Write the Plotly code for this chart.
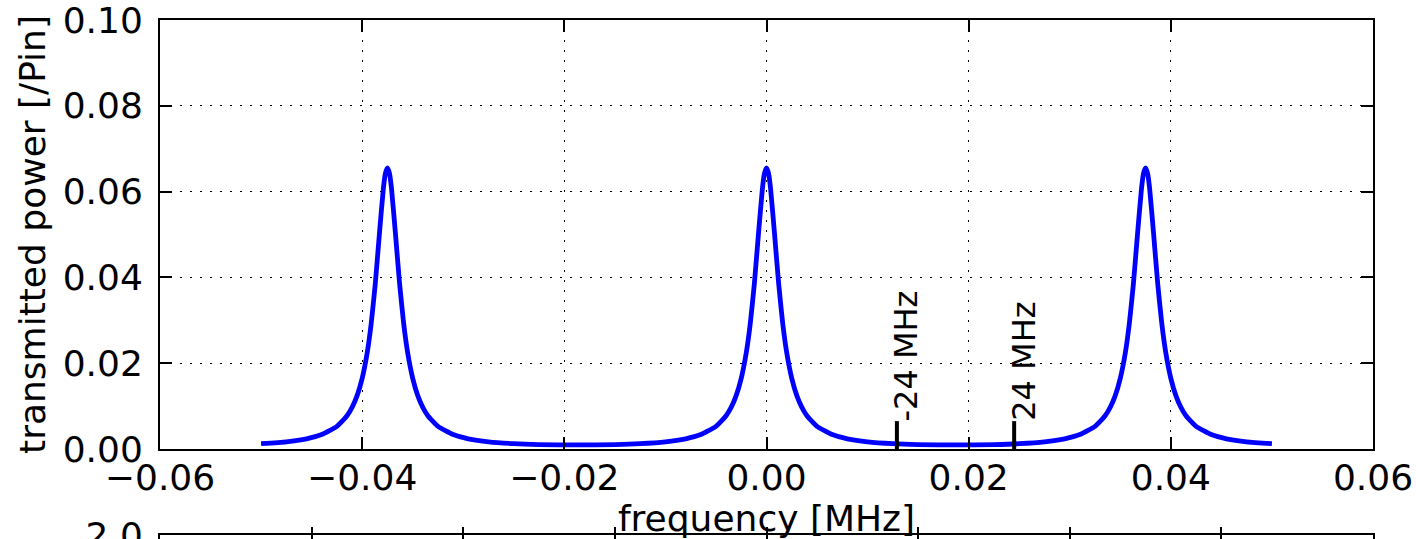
import plotly.graph_objects as go

# ---- data ----
freq = [
    -0.05, -0.0475, -0.0455, -0.044, -0.0425, -0.0415, -0.041, -0.0405, -0.04, -0.0395,
    -0.0391, -0.0387, -0.0383, -0.0379, -0.0377, -0.0375, -0.0373, -0.0371, -0.0367, -0.0363,
    -0.0359, -0.0355, -0.035, -0.0345, -0.034, -0.0335, -0.0325, -0.031, -0.0295, -0.0275,
    -0.025, -0.0225, -0.01875, -0.015, -0.0125, -0.01, -0.008, -0.0065, -0.005, -0.004,
    -0.0035, -0.003, -0.0025, -0.002, -0.0016, -0.0012, -0.0008, -0.0004, -0.0002, 0.0,
    0.0002, 0.0004, 0.0008, 0.0012, 0.0016, 0.002, 0.0025, 0.003, 0.0035, 0.004,
    0.005, 0.0065, 0.008, 0.01, 0.0125, 0.015, 0.01875, 0.0225, 0.025, 0.0275,
    0.0295, 0.031, 0.0325, 0.0335, 0.034, 0.0345, 0.035, 0.0355, 0.0359, 0.0363,
    0.0367, 0.0371, 0.0373, 0.0375, 0.0377, 0.0379, 0.0383, 0.0387, 0.0391, 0.0395,
    0.04, 0.0405, 0.041, 0.0415, 0.0425, 0.044, 0.0455, 0.0475, 0.05,
]
power = [
    0.00124, 0.00167, 0.00237, 0.00336, 0.00528, 0.00774, 0.00969, 0.01243, 0.01645, 0.02244,
    0.02935, 0.0386, 0.0500, 0.0608, 0.06425, 0.0655, 0.06425, 0.0608, 0.0500, 0.0386,
    0.02935, 0.02244, 0.01645, 0.01243, 0.00969, 0.00774, 0.00528, 0.00336, 0.00237, 0.00167,
    0.00124, 0.00103, 0.00094, 0.00103, 0.00124, 0.00167, 0.00237, 0.00336, 0.00528, 0.00774,
    0.00969, 0.01243, 0.01645, 0.02244, 0.02935, 0.0386, 0.0500, 0.0608, 0.06425, 0.0655,
    0.06425, 0.0608, 0.0500, 0.0386, 0.02935, 0.02244, 0.01645, 0.01243, 0.00969, 0.00774,
    0.00528, 0.00336, 0.00237, 0.00167, 0.00124, 0.00103, 0.00094, 0.00103, 0.00124, 0.00167,
    0.00237, 0.00336, 0.00528, 0.00774, 0.00969, 0.01243, 0.01645, 0.02244, 0.02935, 0.0386,
    0.0500, 0.0608, 0.06425, 0.0655, 0.06425, 0.0608, 0.0500, 0.0386, 0.02935, 0.02244,
    0.01645, 0.01243, 0.00969, 0.00774, 0.00528, 0.00336, 0.00237, 0.00167, 0.00124,
]

marker_freq = [0.0129, 0.0245]
marker_height = [0.0065, 0.0065]
marker_labels = ["-24 MHz", "24 MHz"]

x_ticks = [-0.06, -0.04, -0.02, 0.0, 0.02, 0.04, 0.06]
x_tick_text = ["\u22120.06", "\u22120.04", "\u22120.02", "0.00", "0.02", "0.04", "0.06"]
y_ticks = [0.0, 0.02, 0.04, 0.06, 0.08, 0.10]
y_tick_text = ["0.00", "0.02", "0.04", "0.06", "0.08", "0.10"]

# second (cut-off) panel below
y2_ticks = [2.0]
y2_tick_text = ["2.0"]
x2_ticks = [0, 1, 2, 3, 4, 5, 6, 7, 8]

FONT = "DejaVu Sans"
W, H = 1416, 539

fig = go.Figure()

fig.add_trace(go.Scatter(
    x=freq, y=power, mode="lines",
    line=dict(color="#0000ff", width=4.8, shape="spline", smoothing=0.5),
    xaxis="x", yaxis="y", showlegend=False, hoverinfo="skip",
))

for xv, hv in zip(marker_freq, marker_height):
    fig.add_trace(go.Scatter(
        x=[xv, xv], y=[0, hv], mode="lines",
        line=dict(color="black", width=4),
        xaxis="x", yaxis="y", showlegend=False, hoverinfo="skip",
    ))

for xv, hv, lab in zip(marker_freq, marker_height, marker_labels):
    fig.add_annotation(
        x=xv, y=hv, xref="x", yref="y", text=lab, showarrow=False,
        textangle=-90, xanchor="left", yanchor="bottom", xshift=-12, yshift=-2,
        font=dict(family=FONT, size=32, color="black"),
    )

# invisible trace for second panel
fig.add_trace(go.Scatter(x=[0, 8], y=[1.9, 2.0], mode="lines",
                         line=dict(color="rgba(0,0,0,0)"), xaxis="x2", yaxis="y2",
                         showlegend=False, hoverinfo="skip"))

axis_common = dict(
    showline=True, linecolor="black", linewidth=2, mirror="allticks",
    ticks="inside", ticklen=12, tickwidth=1.5, tickcolor="black",
    zeroline=False, automargin=False, ticklabeloverflow="allow",
)

top_dom = [(H - 449) / H, 1 - 20 / H]

fig.update_layout(
    template="none",
    width=W, height=H,
    margin=dict(l=160, r=43, t=0, b=0, autoexpand=False),
    paper_bgcolor="white", plot_bgcolor="white",
    font=dict(family=FONT, size=36, color="black"),
    xaxis=dict(
        **axis_common, anchor="y", domain=[0, 1],
        range=[-0.06, 0.06], tickvals=x_ticks, ticktext=x_tick_text,
        showgrid=True, gridcolor="black", gridwidth=1, griddash="2px,8px",
        tickfont=dict(family=FONT, size=36), ticklabelstandoff=-4,
        title=dict(text="frequency [MHz]", font=dict(family=FONT, size=36), standoff=8),
    ),
    yaxis=dict(
        **axis_common, anchor="x", domain=top_dom,
        range=[0, 0.1], tickvals=y_ticks, ticktext=y_tick_text,
        showgrid=True, gridcolor="black", gridwidth=1, griddash="2px,8px",
        tickfont=dict(family=FONT, size=36), ticklabelstandoff=8,
        title=dict(text="transmitted power [/Pin]", font=dict(family=FONT, size=36), standoff=6),
    ),
    xaxis2=dict(
        **axis_common, anchor="y2", domain=[0, 1],
        range=[0, 8], tickvals=x2_ticks, showticklabels=False, showgrid=False,
    ),
    yaxis2=dict(
        **axis_common, anchor="x2", domain=[0, 4 / H],
        range=[1.9, 2.0], tickvals=y2_ticks, ticktext=y2_tick_text,
        tickfont=dict(family=FONT, size=36), ticklabelstandoff=8, showgrid=False,
    ),
)

fig.write_html(
    "out.html",
    config={"displayModeBar": False},
    post_script="document.body.style.margin='0';document.body.style.overflow='hidden';",
)
